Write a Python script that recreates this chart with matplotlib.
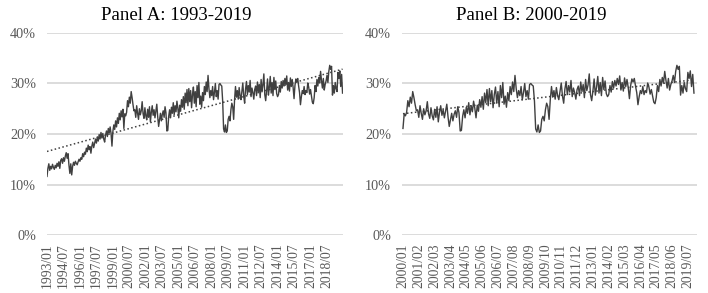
import numpy as np
import matplotlib
matplotlib.use("Agg")
import matplotlib.pyplot as plt

# monthly share (%), one list per year
y1993 = [11.6, 13.2, 14.1, 12.8, 13.6, 13.1, 14.0, 13.4, 13.0, 13.8, 13.3, 14.2]
y1994 = [13.6, 14.5, 13.2, 14.8, 15.1, 14.2, 15.3, 14.6, 15.6, 16.3, 15.2, 16.1]
y1995 = [13.8, 12.2, 14.1, 11.9, 13.6, 14.4, 13.8, 14.6, 14.2, 13.9, 14.5, 15.0]
y1996 = [14.6, 15.3, 15.0, 16.1, 15.5, 16.4, 16.0, 17.2, 16.5, 17.8, 16.9, 17.5]
y1997 = [16.2, 17.6, 18.4, 17.3, 18.1, 19.0, 18.2, 19.4, 18.6, 19.9, 19.0, 20.3]
y1998 = [19.2, 20.1, 19.0, 18.4, 19.8, 20.6, 19.5, 21.1, 20.2, 21.4, 20.1, 17.6]
y1999 = [20.5, 21.8, 20.9, 22.6, 21.4, 23.2, 22.1, 24.1, 22.8, 24.6, 23.4, 24.9]
y2000 = [21.1, 24.0, 23.6, 24.3, 26.6, 25.4, 27.3, 26.1, 28.4, 27.2, 25.8, 24.6]
y2001 = [24.8, 23.3, 25.6, 24.1, 22.9, 25.0, 23.8, 24.6, 26.4, 24.0, 23.1, 25.2]
y2002 = [23.6, 22.8, 24.9, 23.3, 25.4, 22.4, 24.3, 25.6, 23.7, 24.8, 23.2, 24.5]
y2003 = [25.9, 23.4, 21.5, 22.8, 24.1, 22.6, 23.9, 24.6, 23.3, 25.4, 24.2, 20.6]
y2004 = [20.7, 23.5, 24.8, 23.2, 25.3, 24.1, 26.2, 23.8, 25.6, 24.4, 26.5, 25.1]
y2005 = [23.2, 25.7, 24.5, 26.8, 25.3, 27.4, 24.9, 28.1, 26.2, 28.8, 25.6, 29.0]
y2006 = [26.4, 28.6, 25.2, 27.8, 29.3, 26.1, 28.4, 25.4, 29.6, 27.2, 30.2, 25.9]
y2007 = [27.5, 25.3, 28.2, 26.6, 29.4, 27.8, 30.3, 28.4, 31.6, 29.0, 27.2, 28.6]
y2008 = [27.6, 29.4, 26.8, 28.2, 30.0, 27.4, 28.6, 26.9, 29.8, 30.0, 29.7, 29.5]
y2009 = [26.5, 21.0, 20.4, 21.8, 20.3, 20.6, 22.9, 23.5, 22.6, 24.8, 26.1, 25.4]
y2010 = [22.9, 26.8, 29.4, 27.3, 28.6, 26.9, 29.2, 27.6, 26.8, 28.4, 30.1, 27.5]
y2011 = [26.1, 28.9, 30.4, 27.8, 29.6, 28.3, 30.6, 27.4, 29.1, 28.2, 26.9, 28.8]
y2012 = [29.5, 27.6, 30.3, 28.4, 29.8, 27.2, 30.8, 28.6, 29.7, 31.9, 27.8, 26.6]
y2013 = [28.5, 30.9, 27.7, 29.3, 31.4, 28.1, 30.2, 27.6, 31.2, 28.8, 30.5, 28.0]
y2014 = [27.4, 27.8, 29.6, 28.3, 30.4, 29.1, 30.6, 29.5, 31.0, 29.8, 31.5, 28.7]
y2015 = [30.2, 28.5, 31.1, 29.4, 30.8, 29.2, 27.0, 29.6, 30.9, 30.3, 31.0, 29.5]
y2016 = [28.2, 25.8, 27.4, 28.6, 28.0, 29.4, 27.8, 28.6, 28.2, 30.1, 29.3, 27.9]
y2017 = [28.8, 27.5, 26.3, 26.0, 27.2, 29.6, 28.4, 30.8, 29.5, 31.2, 30.1, 32.4]
y2018 = [30.6, 29.1, 31.0, 28.7, 29.8, 30.5, 31.6, 30.2, 32.4, 33.6, 32.8, 33.4]
y2019 = [27.7, 29.6, 28.1, 30.2, 29.0, 28.4, 32.2, 31.0, 32.5, 29.4, 31.8, 28.1]

years = list(range(1993, 2020))
series = [y1993, y1994, y1995, y1996, y1997, y1998, y1999, y2000, y2001,
          y2002, y2003, y2004, y2005, y2006, y2007, y2008, y2009, y2010,
          y2011, y2012, y2013, y2014, y2015, y2016, y2017, y2018, y2019]

months = [f"{y}/{m:02d}" for y in years for m in range(1, 13)]
values = np.array([v for yr in series for v in yr]) / 100.0

panel_a_start = "1993/01"
panel_b_start = "2000/01"
panel_a_step = 18
panel_b_step = 13
yticks = [0, 0.1, 0.2, 0.3, 0.4]

serif = ["Liberation Serif", "DejaVu Serif"]
grey_txt = "#595959"
line_col = "#404040"

fig = plt.figure(figsize=(7.08, 2.93), dpi=100)
ax_a = fig.add_axes([47 / 708, 58 / 293, 296 / 708, 202 / 293])
ax_b = fig.add_axes([402 / 708, 58 / 293, 295 / 708, 202 / 293])


def draw_panel(ax, start, step, xlim):
    i0 = months.index(start)
    labs = months[i0:]
    vals = values[i0:]
    x = np.arange(len(vals))
    ax.plot(x, vals, color=line_col, lw=1.0, zorder=3)
    # linear trend line
    k, b = np.polyfit(x, vals, 1)
    ax.plot(x, k * x + b, color=line_col, lw=1.1,
            linestyle=(0, (1, 1.6)), zorder=4)
    ax.set_ylim(0, 0.4)
    ax.set_xlim(*xlim)
    ax.set_yticks(yticks)
    ax.set_yticklabels([f"{int(round(t * 100))}%" for t in yticks],
                       family=serif, fontsize=10.3, color=grey_txt)
    ticks = x[::step]
    ax.set_xticks(ticks)
    ax.set_xticklabels([labs[i] for i in ticks], rotation=90,
                       family=serif, fontsize=9.8, color=grey_txt)
    ax.tick_params(length=0)
    ax.tick_params(axis="y", pad=8)
    ax.tick_params(axis="x", pad=6)
    ax.grid(axis="y", color="#d9d9d9", lw=1.3, zorder=0)
    for s in ax.spines.values():
        s.set_visible(False)
    ax.set_axisbelow(True)


draw_panel(ax_a, panel_a_start, panel_a_step, (0, 323.5))
draw_panel(ax_b, panel_b_start, panel_b_step, (-0.8, 241.5))

fig.text(176 / 708, 1 - 15 / 293, "Panel A: 1993-2019", ha="center",
         va="center", family=serif, fontsize=13.5, color="black")
fig.text(531 / 708, 1 - 15 / 293, "Panel B: 2000-2019", ha="center",
         va="center", family=serif, fontsize=13.5, color="black")

fig.savefig("out.png", dpi=100, facecolor="white")
